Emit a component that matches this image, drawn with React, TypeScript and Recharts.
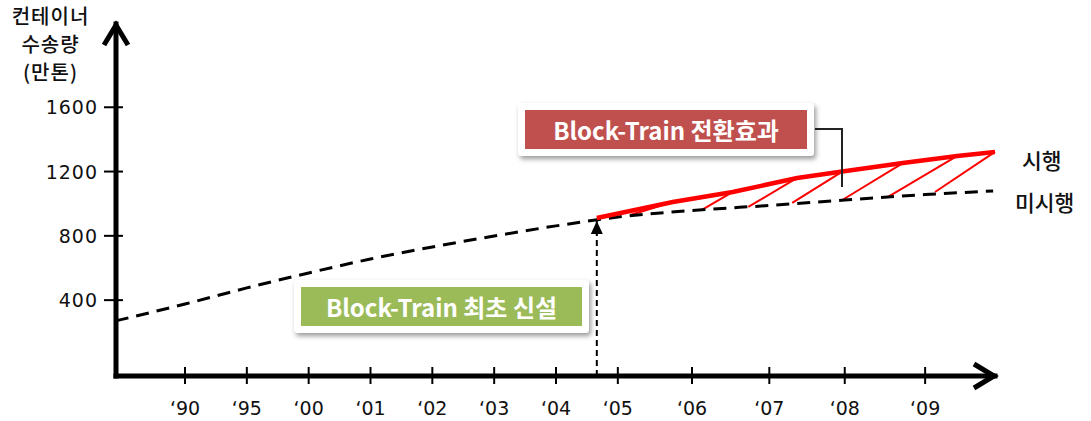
import React from "react";
import { LineChart, Line, XAxis, YAxis, ReferenceLine } from "recharts";

// x positions are "slots": '90 = 0, one slot per label up to '05, wider after
const yearLabels = ["‘90", "‘95", "‘00", "‘01", "‘02", "‘03", "‘04", "‘05", "‘06", "‘07", "‘08", "‘09"];
const yearPos = [0, 1, 2, 3, 4, 5, 6, 7, 8.2, 9.45, 10.67, 11.97];
const yTicks = [400, 800, 1200, 1600];

// 미시행 (baseline, dashed)
const baseX = [-1.12, 0, 1, 2, 3, 4, 5, 6, 7, 8.2, 9.45, 10.67, 11.97, 13.07];
const baseValues = [271, 376, 476, 569, 656, 731, 799, 862, 917, 958, 989, 1023, 1057, 1079];

// 시행 (with Block-Train, red)
const trainX = [6.66, 7.89, 8.86, 9.9, 10.63, 11.61, 12.49, 13.1];
const trainValues = [911, 1011, 1073, 1160, 1200, 1253, 1297, 1322];

// hatch lines: start on the dashed curve, end on the next red vertex
const hatchX = [7.2, 8.36, 9.11, 9.82, 10.63, 11.37, 12.13];
const hatchValues = [930, 961, 980, 1005, 1023, 1042, 1073];

const baseData = baseX.map((x, i) => ({ x, value: baseValues[i] }));
const trainData = trainX.map((x, i) => ({ x, value: trainValues[i] }));

const X_DOMAIN: [number, number] = [-1.116, 13.1];
const Y_DOMAIN: [number, number] = [-72, 2118];

const tickFont = "'DejaVu Sans', sans-serif";
const krFont = "'Noto Sans CJK KR', sans-serif";

const XTick = (props: any) => {
  const { x, y, payload } = props;
  const idx = yearPos.indexOf(payload.value);
  return (
    <g>
      <line x1={x} x2={x} y1={y - 9} y2={y + 8} stroke="#000" strokeWidth={2} />
      <text x={x} y={y + 39} textAnchor="middle" fontSize={19} fontFamily={tickFont} fill="#111">
        {yearLabels[idx]}
      </text>
    </g>
  );
};

const YTick = (props: any) => {
  const { x, y, payload } = props;
  return (
    <g>
      <line x1={x - 12} x2={x + 7} y1={y} y2={y} stroke="#000" strokeWidth={2} />
      <text x={x - 18} y={y + 7} textAnchor="end" fontSize={19} fontFamily={tickFont} letterSpacing={1} fill="#111">
        {payload.value}
      </text>
    </g>
  );
};

const css = `
.recharts-yAxis .recharts-cartesian-axis-line { marker-start: url(#arrUp); stroke-linecap: square; }
.recharts-xAxis .recharts-cartesian-axis-line { marker-end: url(#arrRight); stroke-linecap: square; }
.up-arrow .recharts-reference-line-line { marker-end: url(#tri); }
`;

const boxOuter: React.CSSProperties = {
  position: "absolute",
  padding: 7,
  background: "#fff",
  borderRadius: 3,
  boxShadow: "2px 3px 5px rgba(0,0,0,0.4)",
};

const boxInner: React.CSSProperties = {
  height: 39,
  color: "#fff",
  fontFamily: krFont,
  fontWeight: 700,
  fontSize: 24,
  lineHeight: "39px",
  textAlign: "center",
  whiteSpace: "nowrap",
};

export default function App() {
  return (
    <div style={{ position: "absolute", left: 0, top: 0, width: 1091, height: 421, background: "#fff" }}>
      <style>{css}</style>
      <svg width={0} height={0} style={{ position: "absolute" }}>
        <defs>
          <marker id="arrUp" markerUnits="userSpaceOnUse" markerWidth={40} markerHeight={40} refX={0} refY={0} orient="auto" overflow="visible">
            <path d="M 21 -12 L 1 0 L 21 12" fill="none" stroke="#000" strokeWidth={5} />
          </marker>
          <marker id="arrRight" markerUnits="userSpaceOnUse" markerWidth={40} markerHeight={40} refX={0} refY={0} orient="auto" overflow="visible">
            <path d="M -21 -12 L -1 0 L -21 12" fill="none" stroke="#000" strokeWidth={5} />
          </marker>
          <marker id="tri" markerUnits="userSpaceOnUse" markerWidth={20} markerHeight={20} refX={0} refY={0} orient="auto" overflow="visible">
            <path d="M 0 0 L -13 -6 L -13 6 Z" fill="#000" />
          </marker>
        </defs>
      </svg>

      <LineChart width={1091} height={421} margin={{ top: 24, right: 96, bottom: 44, left: 115 }}>
        <XAxis
          type="number"
          dataKey="x"
          domain={X_DOMAIN}
          allowDataOverflow
          ticks={yearPos}
          interval={0}
          height={1}
          tickSize={0}
          tickMargin={0}
          tickLine={false}
          tick={<XTick />}
          axisLine={{ stroke: "#000", strokeWidth: 5 }}
        />
        <YAxis
          type="number"
          domain={Y_DOMAIN}
          allowDataOverflow
          ticks={yTicks}
          interval={0}
          width={1}
          tickSize={0}
          tickMargin={0}
          tickLine={false}
          tick={<YTick />}
          axisLine={{ stroke: "#000", strokeWidth: 5 }}
        />
        <ReferenceLine
          className="up-arrow"
          segment={[
            { x: trainX[0], y: Y_DOMAIN[0] },
            { x: trainX[0], y: trainValues[0] - 18 },
          ]}
          stroke="#000"
          strokeWidth={2}
          strokeDasharray="6 4"
          ifOverflow="visible"
        />
        {hatchX.map((hx, i) => (
          <ReferenceLine
            key={i}
            segment={[
              { x: hx, y: hatchValues[i] },
              { x: trainX[i + 1], y: trainValues[i + 1] },
            ]}
            stroke="#ff0000"
            strokeWidth={2}
            ifOverflow="visible"
          />
        ))}
        <Line
          data={baseData}
          dataKey="value"
          type="monotone"
          stroke="#000"
          strokeWidth={3}
          strokeDasharray="13 8"
          dot={false}
          activeDot={false}
          isAnimationActive={false}
        />
        <Line
          data={trainData}
          dataKey="value"
          type="linear"
          stroke="#ff0000"
          strokeWidth={4.5}
          dot={false}
          activeDot={false}
          isAnimationActive={false}
        />
      </LineChart>

      <div
        style={{
          position: "absolute",
          left: 0,
          top: 2,
          width: 101,
          textAlign: "center",
          fontFamily: krFont,
          fontWeight: 500,
          fontSize: 20,
          letterSpacing: 1,
          lineHeight: "28px",
          color: "#111",
        }}
      >
        컨테이너
        <br />
        수송량
        <br />
        (만톤)
      </div>

      <div style={{ ...boxOuter, left: 518, top: 103 }}>
        <div style={{ ...boxInner, width: 282, background: "#C0504D" }}>Block-Train 전환효과</div>
      </div>
      <div style={{ position: "absolute", left: 815, top: 128, width: 26, height: 57, borderTop: "2px solid #222", borderRight: "2px solid #222" }} />

      <div style={{ ...boxOuter, left: 294, top: 280 }}>
        <div style={{ ...boxInner, width: 281, background: "#9BBB59" }}>Block-Train 최초 신설</div>
      </div>

      <div style={{ position: "absolute", left: 1022, top: 146, fontFamily: krFont, fontWeight: 500, fontSize: 21.5, lineHeight: "28px", color: "#111" }}>
        시행
      </div>
      <div style={{ position: "absolute", left: 1015, top: 188, fontFamily: krFont, fontWeight: 500, fontSize: 21.5, lineHeight: "28px", color: "#111" }}>
        미시행
      </div>
    </div>
  );
}
